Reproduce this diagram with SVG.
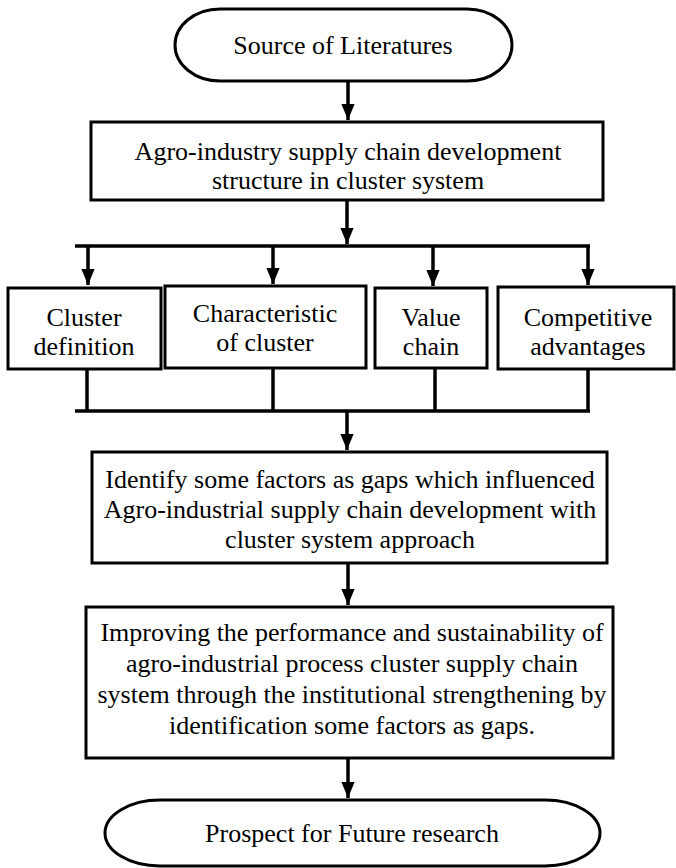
<svg xmlns="http://www.w3.org/2000/svg" width="676" height="868" viewBox="0 0 676 868">
<style>
.shape{fill:#fff;stroke:#000;stroke-width:3}
.t{font-family:"Liberation Serif","Times New Roman",serif;font-size:26px;fill:#000;text-anchor:middle}
.c{fill:none;stroke:#000;stroke-width:3.5}
</style>
<defs>
<marker id="ah" markerWidth="5" markerHeight="5" refX="4.6" refY="2.5" orient="auto" markerUnits="strokeWidth">
<path d="M0,0.6 L4.6,2.5 L0,4.4 Z" fill="#000"/>
</marker>
</defs>
<rect width="676" height="868" fill="#fff"/>
<g id="connectors">
<line class="c" x1="348" y1="81" x2="348" y2="120" marker-end="url(#ah)"/>
<line class="c" x1="347" y1="200" x2="347" y2="244" marker-end="url(#ah)"/>
<line class="c" x1="75" y1="246" x2="590" y2="246"/>
<line class="c" x1="88" y1="246" x2="88" y2="285" marker-end="url(#ah)"/>
<line class="c" x1="273" y1="246" x2="273" y2="284" marker-end="url(#ah)"/>
<line class="c" x1="433" y1="246" x2="433" y2="286" marker-end="url(#ah)"/>
<line class="c" x1="588" y1="246" x2="588" y2="285" marker-end="url(#ah)"/>
<line class="c" x1="87" y1="369" x2="87" y2="411"/>
<line class="c" x1="273" y1="369" x2="273" y2="411"/>
<line class="c" x1="435" y1="369" x2="435" y2="411"/>
<line class="c" x1="588" y1="369" x2="588" y2="411"/>
<line class="c" x1="75" y1="411" x2="590" y2="411"/>
<line class="c" x1="347" y1="411" x2="347" y2="450" marker-end="url(#ah)"/>
<line class="c" x1="348" y1="563" x2="348" y2="605" marker-end="url(#ah)"/>
<line class="c" x1="348" y1="758" x2="348" y2="798" marker-end="url(#ah)"/>
</g>
<g id="source">
<rect class="shape" x="175" y="9" width="337" height="72" rx="45" ry="36"/>
<text class="t" x="343" y="54">Source of Literatures</text>
</g>
<g id="structure">
<rect class="shape" x="91" y="122" width="512" height="78"/>
<text class="t" x="348" y="160">Agro-industry supply chain development</text>
<text class="t" x="348" y="189">structure in cluster system</text>
</g>
<g id="cluster-definition">
<rect class="shape" x="8" y="288" width="153" height="81"/>
<text class="t" x="84" y="326">Cluster</text>
<text class="t" x="84" y="355">definition</text>
</g>
<g id="characteristic">
<rect class="shape" x="165" y="286" width="201" height="82"/>
<text class="t" x="265" y="322">Characteristic</text>
<text class="t" x="265" y="351">of cluster</text>
</g>
<g id="value-chain">
<rect class="shape" x="375" y="288" width="112" height="80"/>
<text class="t" x="431" y="326">Value</text>
<text class="t" x="431" y="355">chain</text>
</g>
<g id="competitive">
<rect class="shape" x="498" y="287" width="176" height="82"/>
<text class="t" x="588" y="326">Competitive</text>
<text class="t" x="588" y="355">advantages</text>
</g>
<g id="identify">
<rect class="shape" x="92" y="452" width="515" height="111"/>
<text class="t" x="350" y="488">Identify some factors as gaps which influenced</text>
<text class="t" x="350" y="518">Agro-industrial supply chain development with</text>
<text class="t" x="350" y="548">cluster system approach</text>
</g>
<g id="improving">
<rect class="shape" x="86" y="607" width="527" height="151"/>
<text class="t" x="352" y="641">Improving the performance and sustainability of</text>
<text class="t" x="352" y="672">agro-industrial process cluster supply chain</text>
<text class="t" x="352" y="703">system through the institutional strengthening by</text>
<text class="t" x="352" y="734">identification some factors as gaps.</text>
</g>
<g id="prospect">
<rect class="shape" x="105" y="800" width="495" height="66" rx="55" ry="33"/>
<text class="t" x="352" y="842">Prospect for Future research</text>
</g>
</svg>
